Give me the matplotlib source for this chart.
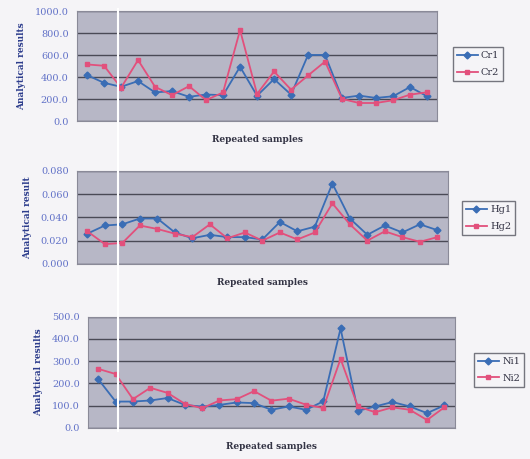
import matplotlib
matplotlib.use("Agg")
import matplotlib.pyplot as plt
from matplotlib.lines import Line2D
from matplotlib.ticker import FormatStrFormatter

samples = list(range(1, 22))

cr1 = [418, 348, 312, 364, 261, 273, 221, 242, 236, 494, 231,
       382, 241, 601, 601, 211, 232, 211, 226, 310, 226]
cr2 = [515, 503, 303, 555, 312, 236, 318, 191, 261, 827, 247,
       451, 286, 415, 541, 202, 165, 165, 190, 241, 262]

hg1 = [0.026, 0.033, 0.034, 0.039, 0.039, 0.027, 0.022, 0.025, 0.023, 0.023, 0.021,
       0.036, 0.028, 0.032, 0.069, 0.039, 0.025, 0.033, 0.027, 0.034, 0.029]
hg2 = [0.028, 0.017, 0.018, 0.033, 0.030, 0.026, 0.023, 0.034, 0.022, 0.027, 0.020,
       0.027, 0.021, 0.027, 0.052, 0.034, 0.020, 0.028, 0.023, 0.019, 0.023]

ni1 = [218, 118, 118, 123, 134, 103, 95, 103, 114, 111, 81,
       96, 81, 119, 447, 76, 96, 116, 96, 66, 101]
ni2 = [265, 242, 129, 180, 157, 108, 88, 123, 129, 165, 122,
       131, 104, 89, 310, 96, 70, 92, 81, 35, 92]

panels = [
    dict(s1=cr1, s2=cr2, names=("Cr1", "Cr2"), ylim=(0, 1000), step=200, fmt="%.1f",
         ylabel="Analytical results", rect=[0.145, 0.736, 0.68, 0.240],
         leg=(0.845, 0.86)),
    dict(s1=hg1, s2=hg2, names=("Hg1", "Hg2"), ylim=(0, 0.08), step=0.02, fmt="%.3f",
         ylabel="Analytical result", rect=[0.145, 0.425, 0.70, 0.203],
         leg=(0.862, 0.525)),
    dict(s1=ni1, s2=ni2, names=("Ni1", "Ni2"), ylim=(0, 500), step=100, fmt="%.1f",
         ylabel="Analytical results", rect=[0.166, 0.068, 0.692, 0.242],
         leg=(0.885, 0.194)),
]

blue = "#3a6db5"
pink = "#e2507c"
tick_col = "#6272c8"
label_col = "#2c3c8c"

fig = plt.figure(figsize=(5.3, 4.59), dpi=100, facecolor="#f5f4f7")

for p in panels:
    ax = fig.add_axes(p["rect"])
    ax.set_facecolor("#b7b7c6")
    ax.plot(samples, p["s1"], color=blue, marker="D", markersize=3.5, lw=1.3, label=p["names"][0])
    ax.plot(samples, p["s2"], color=pink, marker="s", markersize=3.5, lw=1.3, label=p["names"][1])
    ax.set_xlim(0.4, 21.6)
    ax.set_ylim(*p["ylim"])
    lo, hi = p["ylim"]
    n = int(round((hi - lo) / p["step"]))
    ax.set_yticks([lo + i * p["step"] for i in range(n + 1)])
    ax.yaxis.set_major_formatter(FormatStrFormatter(p["fmt"]))
    ax.set_xticks([])
    ax.grid(axis="y", color="#4a4a56", lw=1.0)
    ax.set_axisbelow(True)
    for s in ax.spines.values():
        s.set_color("#8a8a98")
        s.set_linewidth(0.8)
    ax.tick_params(axis="y", length=0, labelsize=7, labelcolor=tick_col, pad=6)
    for t in ax.get_yticklabels():
        t.set_family("DejaVu Serif")
    ax.set_ylabel(p["ylabel"], fontsize=6.5, fontweight="bold", color=label_col,
                  family="DejaVu Serif", labelpad=6)
    ax.set_xlabel("Repeated samples", fontsize=6.5, fontweight="bold", color="#333344",
                  family="DejaVu Serif", labelpad=10)
    leg = ax.legend(loc="center left", bbox_to_anchor=p["leg"], bbox_transform=fig.transFigure,
                    frameon=True, fancybox=False, handlelength=2.2,
                    borderpad=0.4, labelspacing=0.8, handletextpad=0.3,
                    prop={"family": "DejaVu Serif", "size": 7})
    leg.get_frame().set_edgecolor("#555560")
    leg.get_frame().set_facecolor("#f5f4f7")
    for t in leg.get_texts():
        t.set_color("#333344")

# scan artefact: white vertical streak
fig.add_artist(Line2D([0.223, 0.223], [0.06, 0.98], transform=fig.transFigure,
                      color="white", lw=1.5))

fig.savefig("out.png", dpi=100, facecolor=fig.get_facecolor())
